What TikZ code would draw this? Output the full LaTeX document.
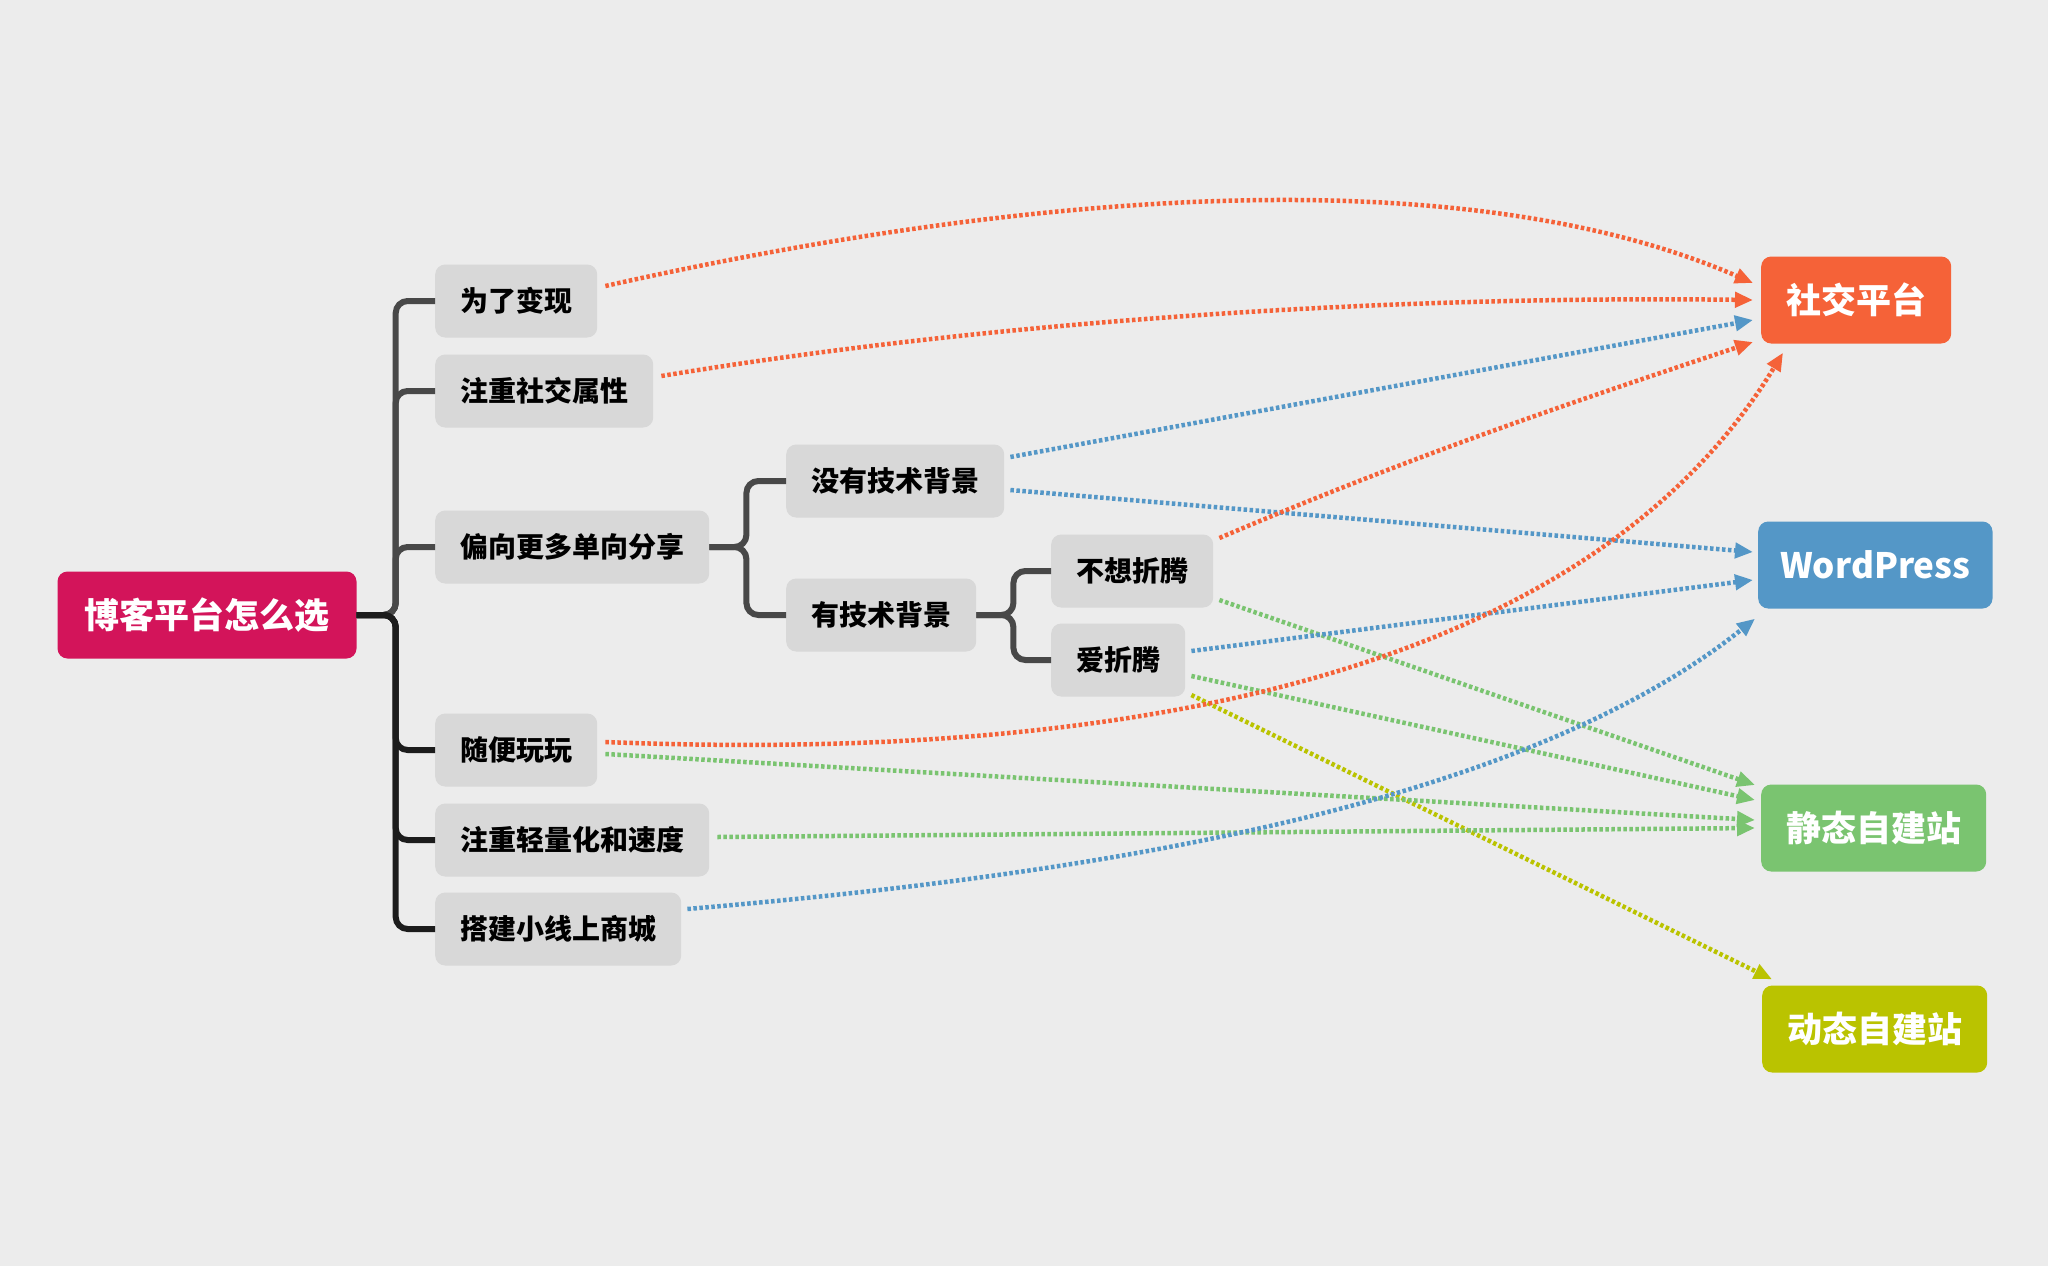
\documentclass[tikz,border=0pt]{standalone}
\usepackage{fontspec}
\usepackage{tikz}
\usetikzlibrary{arrows.meta, positioning, calc}
\newfontfamily\cjk{Noto Sans CJK SC}
\definecolor{bgcolor}{RGB}{236,236,236}
\definecolor{rootcolor}{RGB}{211,20,90}
\definecolor{topiccolor}{RGB}{216,216,216}
\definecolor{branchtop}{RGB}{72,72,72}
\definecolor{branchbottom}{RGB}{28,28,28}
\definecolor{socialcolor}{RGB}{245,98,56}
\definecolor{wpcolor}{RGB}{84,151,199}
\definecolor{staticcolor}{RGB}{122,196,112}
\definecolor{dynamiccolor}{RGB}{186,195,0}

\begin{document}
\begin{tikzpicture}[
    x=1pt, y=-1pt,
    topic/.style={fill=topiccolor, rounded corners=10pt, minimum height=73pt, inner xsep=25pt, anchor=west, text=black, font=\cjk\bfseries\fontsize{28}{32}\selectfont},
    target/.style={rounded corners=10pt, minimum height=87pt, inner xsep=25pt, anchor=west, text=white, font=\cjk\bfseries\fontsize{35}{40}\selectfont},
    branch/.style={line width=6pt, rounded corners=12pt},
    link/.style={line width=4.5pt, dash pattern=on 3.5pt off 2.5pt, -{Triangle[length=18pt,width=15pt]}}
]
    \useasboundingbox (0,0) rectangle (2048,1266);
    \fill[bgcolor] (0,0) rectangle (2048,1266);

    % Central topic
    \node[fill=rootcolor, rounded corners=10pt, minimum height=87pt, minimum width=299pt, text=white, font=\cjk\bfseries\fontsize{35}{40}\selectfont] (root) at (207,615) {博客平台怎么选};

    % First level
    \node[topic] (cash) at (435,301) {为了变现};
    \node[topic] (social) at (435,391) {注重社交属性};
    \node[topic] (share) at (435,547) {偏向更多单向分享};
    \node[topic] (play) at (435,750) {随便玩玩};
    \node[topic] (light) at (435,840) {注重轻量化和速度};
    \node[topic] (shop) at (435,929) {搭建小线上商城};

    % Second and third level
    \node[topic] (notech) at (786,481) {没有技术背景};
    \node[topic] (tech) at (786,615) {有技术背景};
    \node[topic] (lazy) at (1051,571) {不想折腾};
    \node[topic] (tinker) at (1051,660) {爱折腾};

    % Platforms
    \node[target, fill=socialcolor] (sns) at (1761,300) {社交平台};
    \node[target, fill=wpcolor, inner xsep=22pt] (wp) at (1758,565) {WordPress};
    \node[target, fill=staticcolor] (static) at (1761,828) {静态自建站};
    \node[target, fill=dynamiccolor] (dynamic) at (1762,1029) {动态自建站};

    % Tree branches
    \draw[branch, branchtop] (root.east) -- ++(39,0) |- (cash.west);
    \draw[branch, branchtop] (root.east) -- ++(39,0) |- (social.west);
    \draw[branch, branchtop] (root.east) -- ++(39,0) |- (share.west);
    \draw[branch, branchbottom] (root.east) -- ++(39,0) |- (play.west);
    \draw[branch, branchbottom] (root.east) -- ++(39,0) |- (light.west);
    \draw[branch, branchbottom] (root.east) -- ++(39,0) |- (shop.west);
    \draw[branch, branchtop] (share.east) -- ++(37,0) |- (notech.west);
    \draw[branch, branchtop] (share.east) -- ++(37,0) |- (tech.west);
    \draw[branch, branchtop] (tech.east) -- ++(37,0) |- (lazy.west);
    \draw[branch, branchtop] (tech.east) -- ++(37,0) |- (tinker.west);

    % Choices
    \draw[link, socialcolor] ($(cash.east)+(8,-15)$) .. controls +(400,-90) and +(-300,-130) .. ($(sns.west)+(-8,-17)$);
    \draw[link, socialcolor] ($(social.east)+(8,-15)$) .. controls +(300,-50) and +(-400,-5) .. ($(sns.west)+(-8,0)$);
    \draw[link, wpcolor] ($(notech.east)+(6,-24)$) -- ($(sns.west)+(-8,20)$);
    \draw[link, wpcolor] ($(notech.east)+(6,9)$) -- ($(wp.west)+(-5,-13)$);
    \draw[link, socialcolor] ($(lazy.east)+(6,-33)$) .. controls +(200,-85) and +(-180,60) .. ($(sns.west)+(-8,42)$);
    \draw[link, staticcolor] ($(lazy.east)+(6,29)$) -- ($(static.west)+(-6,-43)$);
    \draw[link, wpcolor] ($(tinker.east)+(6,-9)$) -- ($(wp.west)+(-5,15)$);
    \draw[link, staticcolor] ($(tinker.east)+(6,16)$) -- ($(static.west)+(-6,-28)$);
    \draw[link, dynamiccolor] ($(tinker.east)+(6,35)$) -- ($(dynamic.north west)+(10,-6)$);
    \draw[link, socialcolor] ($(play.east)+(8,-8)$) .. controls +(500,20) and +(-200,330) .. ($(sns.south west)+(22,9)$);
    \draw[link, staticcolor] ($(play.east)+(8,4)$) -- ($(static.west)+(-6,-8)$);
    \draw[link, staticcolor] ($(light.east)+(8,-3)$) -- ($(static.west)+(-6,0)$);
    \draw[link, wpcolor] ($(shop.east)+(6,-20)$) .. controls +(350,-30) and +(-250,200) .. ($(wp.south west)+(-3,10)$);
\end{tikzpicture}
\end{document}
